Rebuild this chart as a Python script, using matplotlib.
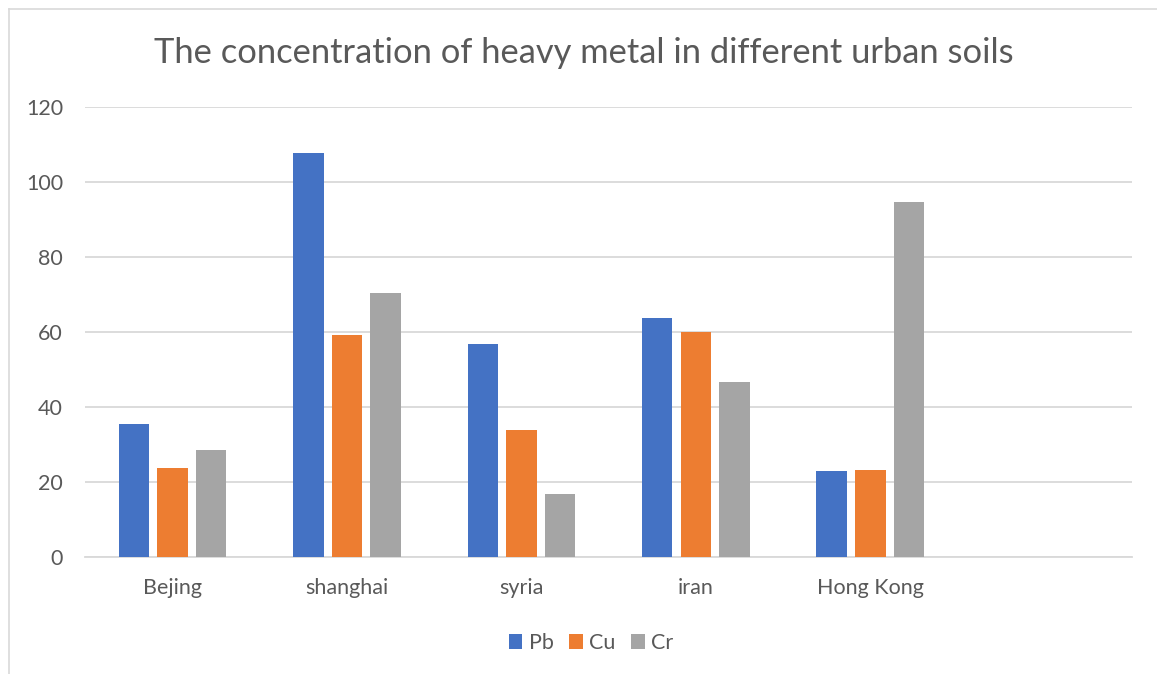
import matplotlib
matplotlib.use("Agg")
import matplotlib.pyplot as plt
from matplotlib.patches import Patch
from matplotlib.lines import Line2D
import numpy as np

# Data
cities = ["Bejing", "shanghai", "syria", "iran", "Hong Kong", ""]
metals = ["Pb", "Cu", "Cr"]
pb = [35.5, 107.7, 56.9, 63.8, 23.1, None]
cu = [23.7, 59.2, 34.0, 60.0, 23.2, None]
cr = [28.6, 70.5, 16.9, 46.6, 94.5, None]
series = [pb, cu, cr]
colors = ["#4472C4", "#ED7D31", "#A5A5A5"]
yticks = [0, 20, 40, 60, 80, 100, 120]

title = "The concentration of heavy metal in different urban soils"
text_color = "#595959"
grid_color = "#D9D9D9"
font = ["Lato", "DejaVu Sans"]

W, H = 1157, 674
fig = plt.figure(figsize=(W / 100, H / 100), dpi=100)
plt.rcParams["font.family"] = font

ax = fig.add_axes([85.3 / W, 1 - 557.3 / H, (1132 - 85.3) / W, (557.3 - 106.7) / H])

bar_w = 0.1745
step = bar_w * 1.27
x = np.arange(len(cities))
for i, (vals, c) in enumerate(zip(series, colors)):
    xs = [xi + (i - 1) * step for xi, v in zip(x, vals) if v is not None]
    hs = [v for v in vals if v is not None]
    ax.bar(xs, hs, width=bar_w, color=c, zorder=3, linewidth=0)

ax.set_xlim(-0.5, len(cities) - 0.5)
ax.set_ylim(0, 120)
ax.set_yticks(yticks)
ax.set_xticks(x)
ax.set_xticklabels(cities)
ax.yaxis.grid(True, color=grid_color, linewidth=1.3, zorder=0)
ax.set_axisbelow(True)
for s in ["top", "right", "left"]:
    ax.spines[s].set_visible(False)
ax.spines["bottom"].set_color(grid_color)
ax.spines["bottom"].set_linewidth(1.3)
ax.tick_params(axis="both", length=0, labelsize=15.5, colors=text_color)
ax.tick_params(axis="y", pad=16)
ax.tick_params(axis="x", pad=15)

fig.text(584 / W, 1 - 53 / H, title, ha="center", va="center",
         fontsize=24.8, color=text_color)

handles = [Patch(facecolor=c, edgecolor="none") for c in colors]
fig.legend(handles, metals, loc="center", bbox_to_anchor=(591 / W, 1 - 643 / H),
           ncol=3, frameon=False, fontsize=15.5, labelcolor=text_color,
           handlelength=0.65, handleheight=0.65, handletextpad=0.3,
           columnspacing=0.7)

# Chart frame edges
fig.add_artist(Line2D([9 / W, 9 / W], [0, 1 - 8.7 / H], transform=fig.transFigure,
                      color=grid_color, linewidth=1.2))
fig.add_artist(Line2D([9 / W, 1], [1 - 8.7 / H, 1 - 8.7 / H], transform=fig.transFigure,
                      color=grid_color, linewidth=1.2))

fig.savefig("out.png", dpi=100, facecolor="white")
